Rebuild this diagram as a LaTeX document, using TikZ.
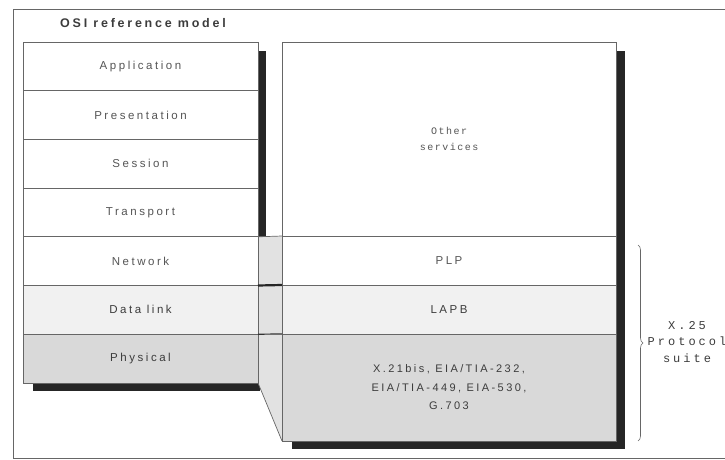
\documentclass[tikz,border=0pt]{standalone}
\usepackage{fontspec}
\setmainfont{Liberation Sans}
\newfontfamily\layerfont[LetterSpace=22]{Liberation Sans}
\newfontfamily\osimono[LetterSpace=15]{Liberation Mono}
\newfontfamily\suitemono[LetterSpace=25]{Liberation Mono}
\usetikzlibrary{
    positioning,
    backgrounds,
    decorations.pathreplacing,
    calc
}
\definecolor{inkgray}{HTML}{555555}
\definecolor{darkink}{HTML}{3C3C3C}
\definecolor{rulegray}{HTML}{666666}
\definecolor{stipple}{HTML}{F1F1F1}
\definecolor{physgray}{HTML}{D9D9D9}
\definecolor{gapgray}{HTML}{E2E2E2}
\tikzset{
    layer/.style={
        rectangle,
        draw=rulegray,
        line width=0.7pt,
        fill=white,
        inner sep=0pt,
        outer sep=0pt,
        align=center,
        minimum width=235pt,
        minimum height=48.7pt,
        text=inkgray,
        font=\layerfont\fontsize{11.5}{14}\selectfont
    },
    linklayer/.style={
        layer,
        fill=stipple,
        text=darkink
    },
    physlayer/.style={
        layer,
        fill=physgray,
        text=darkink
    },
    wide/.style={
        minimum width=334pt,
        minimum height=49pt
    },
    shadowbar/.style={
        fill=black!85
    },
    rowline/.style={
        draw=rulegray,
        line width=0.7pt
    },
    suitebrace/.style={
        decorate,
        decoration={brace, amplitude=5pt},
        draw=rulegray,
        line width=0.6pt
    }
}

\begin{document}
\begin{tikzpicture}[x=1pt, y=-1pt, node distance=0pt]
\useasboundingbox (0,0) rectangle (725,460);
\draw[rulegray, line width=0.6pt] (725,9) -- (13,9) -- (13,458) -- (725,458);

\node[font=\layerfont\bfseries\fontsize{12.5}{14}\selectfont, text=darkink] (title) at (143,23) {OSI reference model};

% OSI stack
\node[layer] (app) at (140.5,66.35) {Application};
\node[layer, below=of app] (pres) {Presentation};
\node[layer, below=of pres] (sess) {Session};
\node[layer, below=of sess] (trans) {Transport};
\node[layer, below=of trans] (net) {Network};
\node[linklayer, below=of net] (dlink) {Data link};
\node[physlayer, below=of dlink] (phys) {Physical};

% X.25 stack
\node[layer, wide, minimum height=194pt, font=\osimono\fontsize{10}{16}\selectfont] (other) at (449,139) {Other\\services};
\node[layer, wide, below=of other] (plp) {PLP};
\node[linklayer, wide, below=of plp] (lapb) {LAPB};
\node[physlayer, wide, minimum height=107pt, below=of lapb,
      font=\layerfont\fontsize{11}{18.5}\selectfont] (phyx) {X.21bis, EIA/TIA-232,\\EIA/TIA-449, EIA-530,\\G.703};

\begin{scope}[on background layer]
\fill[shadowbar] ($(app.north east)+(0,9)$) rectangle ($(net.north east)+(8,0)$);
\fill[shadowbar] ($(phys.south west)+(10,0)$) rectangle ($(phys.south east)+(2,8)$);
\fill[shadowbar] ($(other.north east)+(0,9)$) rectangle ($(phyx.south east)+(9,8)$);
\fill[shadowbar] ($(phyx.south west)+(10,0)$) rectangle ($(phyx.south east)+(9,8)$);
\fill[gapgray] (net.north east) -- (plp.north west) -- (phyx.south west) -- (phys.south east) -- cycle;
\end{scope}
\draw[rowline] (net.north east) -- (plp.north west);
\draw[black!85, line width=2.2pt] (dlink.north east) -- (lapb.north west);
\draw[black!80, line width=1.2pt] (phys.north east) -- (phyx.north west);
\draw[rowline] (phys.south east) -- (phyx.south west);

% suite brace
\coordinate (bracetop) at (638,245);
\coordinate (bracebot) at (638,441);
\draw[suitebrace] (bracetop) -- (bracebot);
\node[font=\suitemono\fontsize{12}{16.5}\selectfont, text=darkink, align=center] (suite) at (687,342) {X.25\\Protocol\\suite};
\end{tikzpicture}
\end{document}
